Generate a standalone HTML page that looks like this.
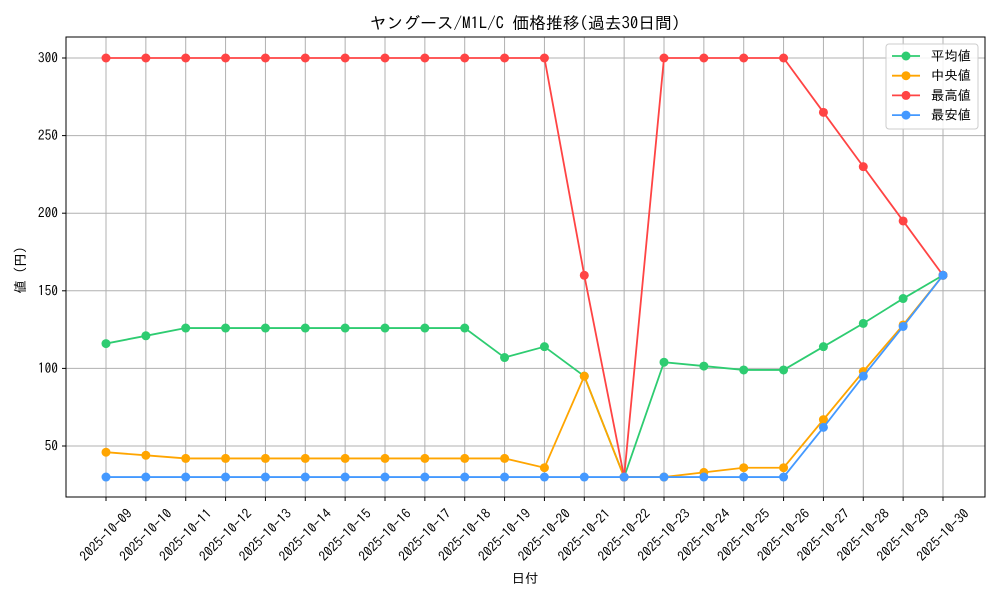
<!DOCTYPE html>
<html><head><meta charset="utf-8"><style>
body{margin:0;background:#fff;}
svg{display:block;font-family:"IPAGothic","Noto Sans CJK JP",sans-serif;}
</style></head><body>
<svg id="chart" width="1000" height="600"></svg>
<script>
const categories=["2025-10-09","2025-10-10","2025-10-11","2025-10-12","2025-10-13","2025-10-14","2025-10-15","2025-10-16","2025-10-17","2025-10-18","2025-10-19","2025-10-20","2025-10-21","2025-10-22","2025-10-23","2025-10-24","2025-10-25","2025-10-26","2025-10-27","2025-10-28","2025-10-29","2025-10-30"];
const avgValues=[116,121,126,126,126,126,126,126,126,126,107,114,95,30,104,101.5,99,99,114,129,145,160];
const medianValues=[46,44,42,42,42,42,42,42,42,42,42,36,95,30,30,33,36,36,67,98,128,160];
const maxValues=[300,300,300,300,300,300,300,300,300,300,300,300,160,30,300,300,300,300,265,230,195,160];
const minValues=[30,30,30,30,30,30,30,30,30,30,30,30,30,30,30,30,30,30,62,95,127,160];
const yTicks=[50,100,150,200,250,300];
const seriesNames=["平均値","中央値","最高値","最安値"];
const colors=["#2ecc71","#ffa500","#ff4444","#4499ff"];

const NS="http://www.w3.org/2000/svg";
const svg=document.getElementById('chart');
const L=66,R=985,T=37,B=497;
const FS=13.4;
const xFn=i=>106+i*(943-106)/(categories.length-1);
const yFn=v=>523.6-v*1.552;
function mk(tag,attrs,parent){const e=document.createElementNS(NS,tag);for(const k in attrs)e.setAttribute(k,attrs[k]);(parent||svg).appendChild(e);return e;}

yTicks.forEach(v=>{
  const g=mk('line',{x1:L,x2:R,y1:yFn(v),y2:yFn(v),stroke:'#b0b0b0','stroke-width':1});
  
  
  mk('line',{x1:L-4,x2:L,y1:yFn(v),y2:yFn(v),stroke:'#000'});
  const t=mk('text',{x:L-8,y:yFn(v)+4.5,'text-anchor':'end','font-size':FS});
  t.textContent=v;
  
  
});
categories.forEach((c,i)=>{
  const g=mk('line',{x1:xFn(i),x2:xFn(i),y1:T,y2:B,stroke:'#b0b0b0','stroke-width':1});
  
  
  mk('line',{x1:xFn(i),x2:xFn(i),y1:B,y2:B+4,stroke:'#000'});
  const cx=xFn(i), cy=B+38;
  const t=mk('text',{x:cx,y:cy+4.5,'text-anchor':'middle','font-size':FS,transform:`rotate(-45 ${cx} ${cy})`});
  t.textContent=c;
  
  
});
const frame=mk('rect',{x:L,y:T,width:R-L,height:B-T,fill:'none',stroke:'#000','stroke-width':1});



[avgValues,medianValues,maxValues,minValues].forEach((vals,s)=>{
  const g=mk('g',{});
  
  
  mk('polyline',{points:vals.map((v,i)=>xFn(i)+','+yFn(v)).join(' '),fill:'none',stroke:colors[s],'stroke-width':1.8},g);
  vals.forEach((v,i)=>{
    const c=mk('circle',{cx:xFn(i),cy:yFn(v),r:4.5,fill:colors[s]},g);
    
    
  });
});

let t=mk('text',{x:525,y:29,'text-anchor':'middle','font-size':16.8});
t.textContent='ヤングース/M1L/C 価格推移(過去30日間)';


t=mk('text',{x:525,y:583,'text-anchor':'middle','font-size':FS});
t.textContent='日付';


t=mk('text',{x:25,y:270,'text-anchor':'middle','font-size':FS,transform:'rotate(-90 25 270)'});
t.textContent='値 (円)';



const lg=mk('g',{});


mk('rect',{x:886,y:44,width:92,height:85,rx:3,fill:'#fff','fill-opacity':0.85,stroke:'#ccc'},lg);
seriesNames.forEach((n,i)=>{
  const y=56+i*19.7;
  const e=mk('g',{},lg);
  
  
  mk('line',{x1:892,x2:920,y1:y,y2:y,stroke:colors[i],'stroke-width':1.8},e);
  mk('circle',{cx:906,cy:y,r:4.5,fill:colors[i]},e);
  const tx=mk('text',{x:931,y:y+4.5,'font-size':FS},e);
  tx.textContent=n;
});
</script>
</body></html>
